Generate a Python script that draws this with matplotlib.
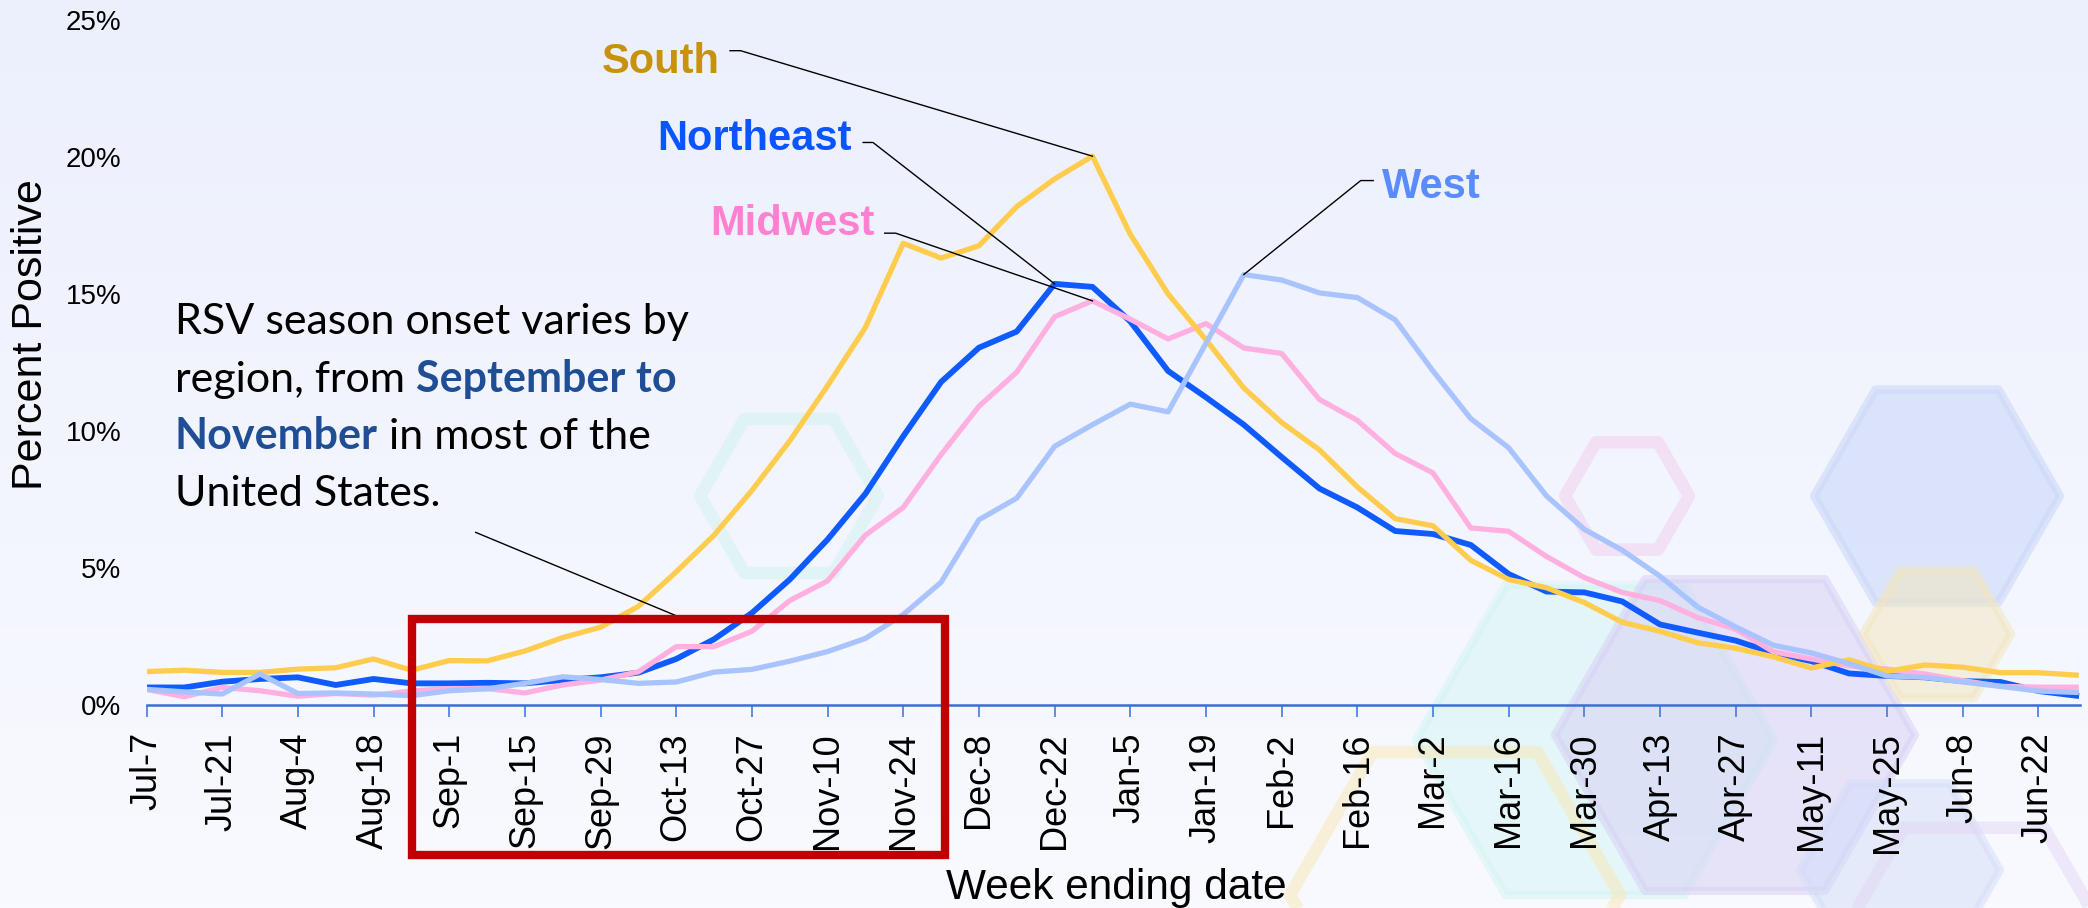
import numpy as np
import matplotlib
matplotlib.use("Agg")
import matplotlib.pyplot as plt
from matplotlib.patches import RegularPolygon, Rectangle
from matplotlib.colors import to_rgb

# weekly percent positive, week ending Jul-7 ... Jun-29
south = [1.22, 1.27, 1.19, 1.19, 1.31, 1.36, 1.68, 1.27, 1.62, 1.61, 1.97, 2.46, 2.84,
         3.6, 4.86, 6.2, 7.83, 9.64, 11.65, 13.78, 16.85, 16.31, 16.76, 18.19, 19.2, 20.03,
         17.18, 15.0, 13.33, 11.57, 10.31, 9.31, 7.96, 6.8, 6.54, 5.28, 4.58, 4.28, 3.74,
         3.02, 2.69, 2.27, 2.07, 1.76, 1.35, 1.65, 1.23, 1.46, 1.38, 1.18, 1.18, 1.09]
northeast = [0.64, 0.64, 0.85, 0.95, 1.01, 0.73, 0.95, 0.79, 0.79, 0.81, 0.79, 0.91, 1.01,
             1.18, 1.68, 2.4, 3.36, 4.58, 6.04, 7.71, 9.81, 11.79, 13.04, 13.63, 15.37, 15.26,
             14.0, 12.19, 11.23, 10.23, 9.05, 7.9, 7.21, 6.35, 6.24, 5.84, 4.78, 4.14, 4.11,
             3.78, 2.94, 2.64, 2.35, 1.9, 1.6, 1.15, 1.06, 1.01, 0.87, 0.84, 0.51, 0.34]
midwest = [0.57, 0.3, 0.64, 0.52, 0.32, 0.42, 0.36, 0.51, 0.6, 0.6, 0.44, 0.73, 0.91,
           1.21, 2.13, 2.13, 2.69, 3.81, 4.53, 6.2, 7.21, 9.14, 10.9, 12.15, 14.17, 14.75,
           14.08, 13.36, 13.92, 13.03, 12.83, 11.15, 10.39, 9.18, 8.47, 6.46, 6.34, 5.42, 4.65,
           4.11, 3.81, 3.19, 2.77, 1.94, 1.68, 1.43, 1.31, 1.13, 0.89, 0.68, 0.65, 0.65]
west = [0.57, 0.48, 0.4, 1.13, 0.42, 0.44, 0.4, 0.34, 0.52, 0.59, 0.79, 1.03, 0.93,
        0.79, 0.84, 1.2, 1.3, 1.6, 1.95, 2.43, 3.3, 4.48, 6.76, 7.55, 9.44, 10.23,
        10.98, 10.7, 13.2, 15.71, 15.51, 15.04, 14.87, 14.06, 12.19, 10.45, 9.39, 7.63, 6.41,
        5.65, 4.7, 3.57, 2.85, 2.18, 1.9, 1.51, 1.06, 1.01, 0.84, 0.68, 0.51, 0.46]
tick_labels = ["Jul-7", "Jul-21", "Aug-4", "Aug-18", "Sep-1", "Sep-15", "Sep-29", "Oct-13",
               "Oct-27", "Nov-10", "Nov-24", "Dec-8", "Dec-22", "Jan-5", "Jan-19", "Feb-2",
               "Feb-16", "Mar-2", "Mar-16", "Mar-30", "Apr-13", "Apr-27", "May-11", "May-25",
               "Jun-8", "Jun-22"]
y_ticks = [0, 5, 10, 15, 20, 25]

W, H = 2088, 908
fig = plt.figure(figsize=(W / 100, H / 100), dpi=100)

# background + faint hexagons (pixel coordinates)
bg = fig.add_axes([0, 0, 1, 1], zorder=-10)
top, bot = np.array(to_rgb("#ECF0FD")), np.array(to_rgb("#F9FAFF"))
grad = np.linspace(0, 1, 200)[:, None, None] * (bot - top) + top
bg.imshow(np.repeat(grad, 2, axis=1), extent=[0, W, H, 0], aspect="auto")
bg.set_xlim(0, W)
bg.set_ylim(H, 0)
bg.axis("off")

hexes = [  # (cx, cy, r, color, filled, alpha)
    (1595, 740, 179, "#CFF4F2", True, 0.45),
    (1735, 735, 180, "#D6CFF5", True, 0.5),
    (1900, 870, 100, "#D3DDF8", True, 0.5),
    (1937, 496, 123, "#CBD8F8", True, 0.6),
    (1937, 634, 74, "#F2E6C0", True, 0.55),
    (789, 496, 89, "#D5F3EF", False, 0.6),
    (1627, 496, 62, "#F2D2EE", False, 0.6),
    (1455, 895, 165, "#F8E7B4", False, 0.5),
    (1974, 949, 140, "#E3D6F5", False, 0.5),
]
for cx, cy, r, c, filled, a in hexes:
    if filled:
        p = RegularPolygon((cx, cy), 6, radius=r, orientation=np.pi / 6,
                           facecolor=c, edgecolor=c, lw=6, joinstyle="round", alpha=a)
    else:
        p = RegularPolygon((cx, cy), 6, radius=r, orientation=np.pi / 6,
                           fill=False, edgecolor=c, lw=9, joinstyle="round", alpha=a)
    bg.add_patch(p)

# main chart
x0, x1, y0, y1 = 146.5, 2080, 705, 20
ax = fig.add_axes([x0 / W, 1 - y0 / H, (x1 - x0) / W, (y0 - y1) / H])
ax.patch.set_alpha(0)
x = np.arange(len(south))
ax.plot(x, northeast, color="#0F5BFF", lw=4.2)
ax.plot(x, midwest, color="#FFB0E0", lw=3.8)
ax.plot(x, south, color="#FFCC4D", lw=3.8)
ax.plot(x, west, color="#A9C3FF", lw=3.8)

ax.set_xlim(0, 51.1)
ax.set_ylim(0, 25)
ax.set_xticks(np.arange(0, 52, 2))
ax.set_xticklabels(tick_labels, rotation=90, fontsize=26, family="Liberation Sans")
ax.set_yticks(y_ticks)
ax.set_yticklabels([f"{v}%" for v in y_ticks], fontsize=20, family="Liberation Sans")
ax.tick_params(axis="x", length=8.5, width=1.1, color="#3A6FD8", pad=11)
ax.tick_params(axis="y", length=0, pad=18)
for s in ["top", "right", "left"]:
    ax.spines[s].set_visible(False)
ax.spines["bottom"].set_color("#3A6FD8")
ax.spines["bottom"].set_linewidth(1.8)
ax.set_ylabel("Percent Positive", fontsize=31, family="Liberation Sans")
ax.yaxis.set_label_coords((51 - x0) / (x1 - x0), (y0 - 335) / (y0 - y1))
fig.text(1116 / W, 1 - 868 / H, "Week ending date", fontsize=30.5, family="Liberation Sans",
         ha="center", va="top")

# region labels with leader lines
labels = [
    ("South", "#C8920A", 15.16, 23.05, "right", [(15.42, 23.88), (15.70, 23.88)], 25, south),
    ("Northeast", "#0A55FF", 18.64, 20.26, "right", [(18.94, 20.53), (19.2, 20.53)], 24, northeast),
    ("Midwest", "#FF80D0", 19.24, 17.15, "right", [(19.51, 17.22), (19.8, 17.22)], 25, midwest),
    ("West", "#5A8BFF", 32.66, 18.52, "left", [(32.42, 19.14), (32.09, 19.14)], 29, west),
]
for name, c, tx, ty, ha, pts, pk, ser in labels:
    ax.text(tx, ty, name, color=c, fontsize=30, fontweight="bold", family="Liberation Sans",
            ha=ha, va="baseline")
    xs = [p[0] for p in pts] + [pk]
    ys = [p[1] for p in pts] + [ser[pk]]
    ax.plot(xs, ys, color="black", lw=1, clip_on=False, zorder=5)

# annotation text, mixed styles
fig.canvas.draw()
rend = fig.canvas.get_renderer()
fs = 31
base = dict(fontsize=fs, family="Lato", va="baseline")
bold = dict(fontsize=fs, family="Lato", va="baseline", fontweight="bold", color="#1F4E95")
tl = 175 / W


def fy(py):
    return 1 - py / H


def after(t):
    bb = t.get_window_extent(rend)
    return bb.x1 / W


sp = fig.text(0, 0, "a a", **base)
sp2 = fig.text(0, 0, "aa", **base)
space = (sp.get_window_extent(rend).width - sp2.get_window_extent(rend).width) / W
sp.remove()
sp2.remove()

fig.text(tl, fy(334), "RSV season onset varies by", **base)
t = fig.text(tl, fy(392), "region, from", **base)
fig.text(after(t) + space, fy(392), "September to", **bold)
t = fig.text(tl, fy(449), "November", **bold)
fig.text(after(t) + space, fy(449), "in most of the", **base)
fig.text(tl, fy(506), "United States.", **base)
ax.plot([8.7, 14.1], [6.3, 3.2], color="black", lw=1, clip_on=False, zorder=5)

# highlight box Sep-Nov
fig.add_artist(Rectangle((412 / W, 1 - 855 / H), (945 - 412) / W, (855 - 619) / H,
                         transform=fig.transFigure, fill=False, edgecolor="#C00000",
                         lw=6, zorder=10))

fig.savefig("out.png", dpi=100)
